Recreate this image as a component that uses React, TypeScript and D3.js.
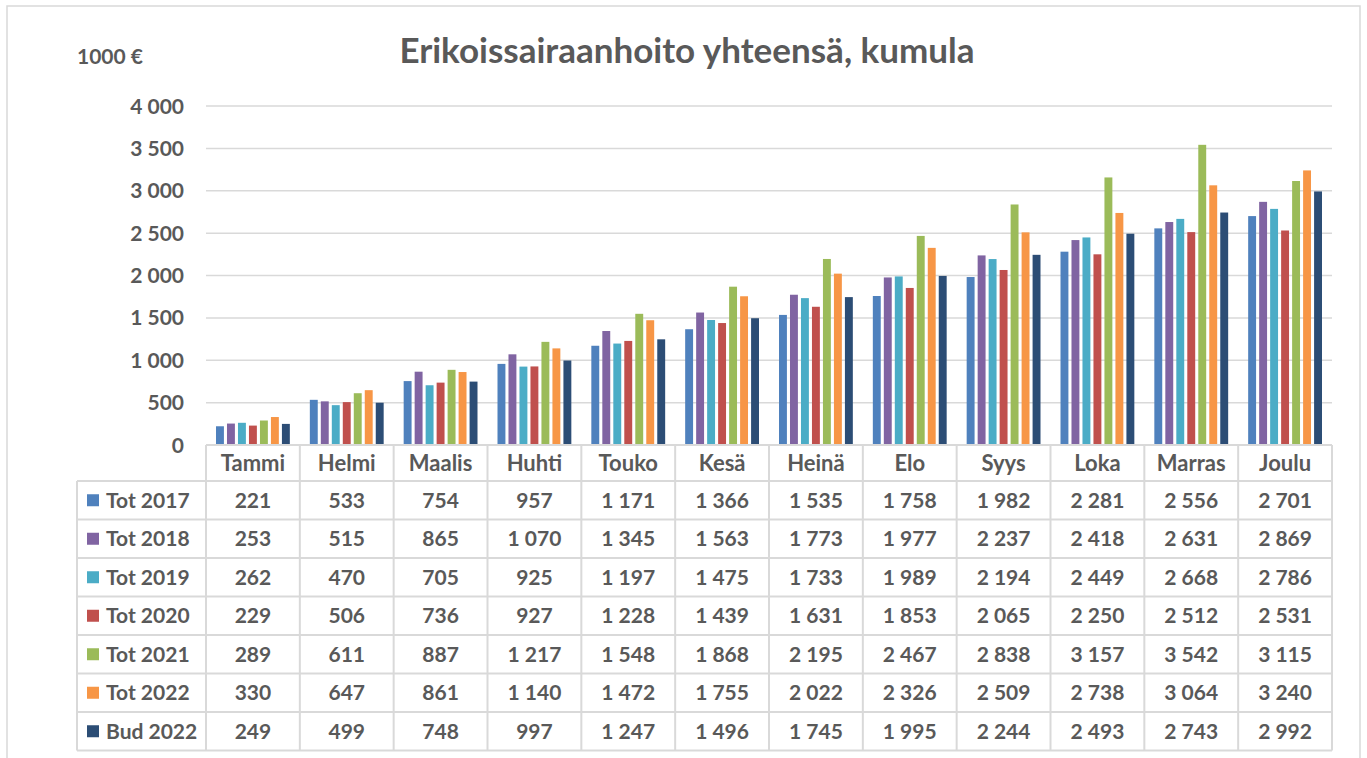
import React from 'react';
import * as d3 from 'd3';

// data
const months = ['Tammi', 'Helmi', 'Maalis', 'Huhti', 'Touko', 'Kesä', 'Heinä', 'Elo', 'Syys', 'Loka', 'Marras', 'Joulu'];
const seriesNames = ['Tot 2017', 'Tot 2018', 'Tot 2019', 'Tot 2020', 'Tot 2021', 'Tot 2022', 'Bud 2022'];
const seriesColors = ['#4F81BD', '#8064A2', '#4BACC6', '#C0504D', '#9BBB59', '#F79646', '#2C4D75'];
const tot2017 = [221, 533, 754, 957, 1171, 1366, 1535, 1758, 1982, 2281, 2556, 2701];
const tot2018 = [253, 515, 865, 1070, 1345, 1563, 1773, 1977, 2237, 2418, 2631, 2869];
const tot2019 = [262, 470, 705, 925, 1197, 1475, 1733, 1989, 2194, 2449, 2668, 2786];
const tot2020 = [229, 506, 736, 927, 1228, 1439, 1631, 1853, 2065, 2250, 2512, 2531];
const tot2021 = [289, 611, 887, 1217, 1548, 1868, 2195, 2467, 2838, 3157, 3542, 3115];
const tot2022 = [330, 647, 861, 1140, 1472, 1755, 2022, 2326, 2509, 2738, 3064, 3240];
const bud2022 = [249, 499, 748, 997, 1247, 1496, 1745, 1995, 2244, 2493, 2743, 2992];
const yTicks = [0, 500, 1000, 1500, 2000, 2500, 3000, 3500, 4000];

const series = [tot2017, tot2018, tot2019, tot2020, tot2021, tot2022, bud2022];

const TEXT = '#595959';
const LINE = '#D9D9D9';
const FONT = 'Lato, "Open Sans", sans-serif';

// finnish style thousands: "1 171"
const fmt = (v: number) => d3.format(',')(v).replace(/,/g, ' ');

export default function App() {
  const width = 1367;
  const height = 758;
  const plot = { left: 206, right: 1332, top: 106, bottom: 445 };
  const tableLeft = 77;
  const headerBottom = 481;
  const rowH = 38.5;

  const x = d3.scaleBand<string>().domain(months).range([plot.left, plot.right]);
  const inner = d3.scaleBand<string>().domain(seriesNames).range([10, x.bandwidth() - 10]).paddingInner(0.28);
  const y = d3.scaleLinear().domain([0, 4000]).range([plot.bottom, plot.top]);

  const tableBottom = headerBottom + rowH * seriesNames.length;

  return (
    <svg width={width} height={height} style={{ display: 'block', position: 'absolute', left: 0, top: 0 }} fontFamily={FONT}>
      <rect x={0} y={0} width={width} height={height} fill="#fff" />
      <rect x={7} y={6} width={1353} height={770} fill="#fff" stroke={LINE} strokeWidth={1.5} />

      <text x={687} y={63} textAnchor="middle" fontSize={35} fontWeight="bold" fill={TEXT}>
        Erikoissairaanhoito yhteensä, kumula
      </text>
      <text x={77} y={64} fontSize={21} fontWeight="bold" fill={TEXT}>1000 €</text>

      {/* grid + y labels */}
      <g>
        {yTicks.map(t => (
          <g key={t}>
            {t > 0 && <line x1={plot.left} x2={plot.right} y1={y(t)} y2={y(t)} stroke={LINE} strokeWidth={1.5} />}
            <text x={184} y={y(t)} dy="0.36em" textAnchor="end" fontSize={21} fontWeight="bold" fill={TEXT}>{fmt(t)}</text>
          </g>
        ))}
      </g>

      {/* bars */}
      <g>
        {months.map((m, i) => (
          <g key={m} transform={`translate(${x(m)},0)`}>
            {series.map((s, k) => (
              <rect key={k} x={inner(seriesNames[k])} y={y(s[i])} width={inner.bandwidth()}
                height={y(0) - y(s[i])} fill={seriesColors[k]} />
            ))}
          </g>
        ))}
      </g>

      {/* data table */}
      <g stroke={LINE} strokeWidth={2}>
        <line x1={plot.left} x2={plot.right} y1={plot.bottom} y2={plot.bottom} />
        {d3.range(seriesNames.length + 1).map(r => (
          <line key={r} x1={tableLeft} x2={plot.right} y1={headerBottom + r * rowH} y2={headerBottom + r * rowH} />
        ))}
        <line x1={tableLeft} x2={tableLeft} y1={headerBottom} y2={tableBottom} />
        {months.map(m => (
          <line key={m} x1={x(m)} x2={x(m)} y1={plot.bottom} y2={tableBottom} />
        ))}
        <line x1={plot.right} x2={plot.right} y1={plot.bottom} y2={tableBottom} />
      </g>
      <g fontSize={21} fontWeight="bold" fill={TEXT} textAnchor="middle">
        {months.map(m => (
          <text key={m} x={x(m)! + x.bandwidth() / 2} y={(plot.bottom + headerBottom) / 2} dy="0.36em" fontSize={22}>{m}</text>
        ))}
        {series.map((s, k) => {
          const cy = headerBottom + rowH * k + rowH / 2;
          return (
            <g key={k}>
              <rect x={87} y={cy - 6} width={12} height={12} fill={seriesColors[k]} />
              <text x={106} y={cy} dy="0.36em" textAnchor="start">{seriesNames[k]}</text>
              {s.map((v, i) => (
                <text key={i} x={x(months[i])! + x.bandwidth() / 2} y={cy} dy="0.36em">{fmt(v)}</text>
              ))}
            </g>
          );
        })}
      </g>
    </svg>
  );
}
